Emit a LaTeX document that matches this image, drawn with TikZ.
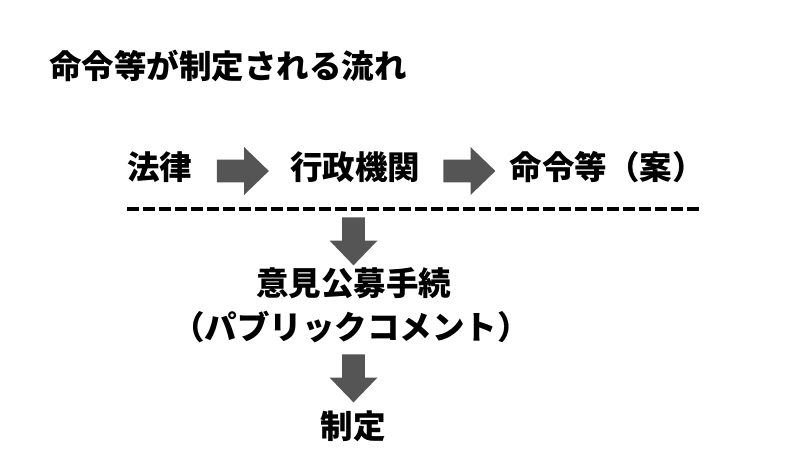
\documentclass[tikz,border=0pt]{standalone}
\usepackage{fontspec}
\newfontfamily\jp{Noto Sans CJK JP}
\usepackage{xcolor}
\usetikzlibrary{shapes.arrows, positioning}

\definecolor{arrowgray}{HTML}{555555}

\tikzset{
    txt/.style={inner sep=0pt, font=\jp\bfseries\fontsize{32.5}{36}\selectfont},
    blockarrow/.style={shape=single arrow, fill=arrowgray, draw=none,
        inner xsep=0pt, inner ysep=11pt,
        minimum height=52pt, minimum width=48pt,
        single arrow head extend=12.5pt, single arrow tip angle=88},
    downarrow/.style={blockarrow, rotate=-90, minimum height=48pt},
    sep/.style={line width=4pt, dash pattern=on 12pt off 4pt}
}

\begin{document}
\begin{tikzpicture}[x=1pt, y=-1pt]
            \useasboundingbox (0,0) rectangle (800,450);

            \node[txt, anchor=west] (title) at (49, 66) {命令等が制定される流れ};

            \node[txt] (law) at (159.5, 167.5) {法律};
            \node[txt] (agency) at (355, 167.5) {行政機関};
            \node[txt] (draft) at (607, 167.5) {命令等（案）};

            \node[blockarrow] (a1) at (237, 171) {};
            \node[blockarrow] (a2) at (463.5, 171) {};

            \coordinate (s1) at (127, 209);
            \coordinate (s2) at (700, 209);
            \draw[sep] (s1) -- (s2);

            \node[downarrow] (d1) at (353.5, 235.5) {};
            \node[txt] (comment) at (353.5, 283) {意見公募手続};
            \node[txt] (pubcom) at (351, 327) {（パブリックコメント）};
            \node[downarrow] (d2) at (353.5, 372.5) {};
            \node[txt] (enact) at (353, 426) {制定};
        \end{tikzpicture}
\end{document}
